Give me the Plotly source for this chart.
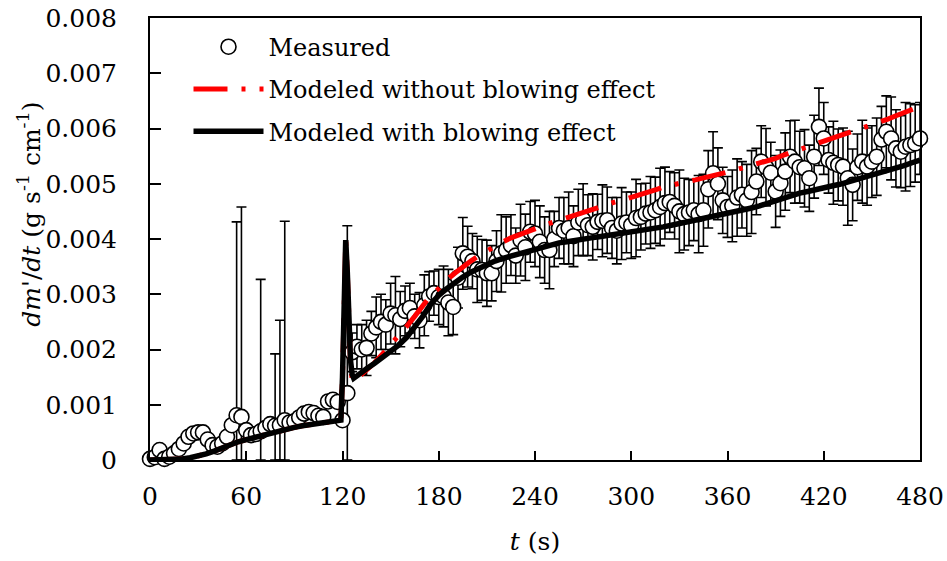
import numpy as np
import plotly.graph_objects as go

# ---------------- data (values in g s^-1 cm^-1 x 1e-3) ----------------
t_meas = list(range(0, 481, 3))
y_meas_k = [
    0.02, 0.05, 0.18, 0.02, 0.06, 0.12, 0.20, 0.30, 0.42, 0.48,   # 0-27
    0.50, 0.50, 0.37, 0.27, 0.24, 0.30, 0.42, 0.63, 0.81, 0.78,   # 30-57
    0.54, 0.45, 0.47, 0.52, 0.58, 0.65, 0.62, 0.63, 0.72, 0.68,   # 60-87
    0.70, 0.77, 0.84, 0.87, 0.85, 0.80, 0.78, 1.06, 1.09, 1.05,   # 90-117
    0.72, 1.21, 1.95, 2.05, 2.00, 2.03, 2.29, 2.40, 2.50, 2.45,   # 120-147
    2.65, 2.62, 2.55, 2.70, 2.75, 2.60, 2.53, 2.80, 2.96, 3.02,   # 150-177
    2.95, 2.96, 2.85, 2.77, 3.30, 3.74, 3.68, 3.60, 3.45, 3.44,   # 180-207
    3.38, 3.38, 3.60, 3.74, 3.80, 3.89, 3.70, 3.98, 3.85, 4.13,   # 210-237
    4.10, 3.95, 3.80, 3.80, 4.00, 4.20, 4.15, 4.20, 4.05, 4.30,   # 240-267
    4.35, 4.25, 4.22, 4.31, 4.33, 4.34, 4.20, 4.15, 4.28, 4.30,   # 270-297
    4.25, 4.38, 4.40, 4.46, 4.48, 4.52, 4.58, 4.65, 4.67, 4.60,   # 300-327
    4.50, 4.45, 4.48, 4.52, 4.45, 4.52, 4.90, 5.19, 5.00, 4.70,   # 330-357
    4.58, 4.60, 4.75, 4.80, 4.70, 4.85, 5.04, 5.40, 5.30, 5.20,   # 360-387
    4.86, 5.01, 5.22, 5.49, 5.40, 5.30, 5.28, 5.10, 5.49, 6.03,   # 390-417
    5.82, 5.43, 5.38, 5.34, 5.31, 5.10, 4.98, 5.30, 5.40, 5.31,   # 420-447
    5.40, 5.49, 5.80, 5.94, 5.82, 5.64, 5.58, 5.67, 5.70, 5.73,   # 450-477
    5.82,                                                          # 480
]
err_meas_k = [
    0.05, 0.05, 0.05, 0.05, 0.05, 0.05, 0.05, 0.05, 0.05, 0.05,
    0.05, 0.05, 0.05, 0.05, 0.05, 0.05, 0.05, 0.05, 3.50, 3.80,
    0.05, 0.05, 0.05, 2.75, 0.05, 0.05, 1.30, 1.90, 3.60, 0.05,
    0.05, 0.05, 0.05, 0.05, 0.05, 0.05, 0.05, 0.05, 0.05, 0.05,
    0.05, 3.03, 0.35, 0.40, 0.45, 0.50, 0.40, 0.55, 0.50, 0.45,
    0.55, 0.70, 0.50, 0.45, 0.45, 0.40, 0.50, 0.55, 0.45, 0.40,
    0.50, 0.55, 0.60, 0.50, 0.55, 0.65, 0.55, 0.50, 0.60, 0.55,
    0.60, 0.50, 0.55, 0.70, 0.60, 0.55, 0.50, 0.65, 0.60, 0.55,
    0.60, 0.65, 0.60, 0.70, 0.50, 0.55, 0.60, 0.65, 0.55, 0.60,
    0.65, 0.55, 0.60, 0.50, 0.65, 0.60, 0.55, 0.60, 0.65, 0.55,
    0.60, 0.70, 0.60, 0.55, 0.65, 0.60, 0.70, 0.65, 0.55, 0.60,
    0.75, 0.65, 0.60, 0.55, 0.70, 0.65, 0.70, 0.75, 0.65, 0.60,
    0.55, 0.65, 0.70, 0.60, 0.65, 0.75, 0.60, 0.65, 0.70, 0.55,
    0.65, 0.60, 0.70, 0.65, 0.75, 0.65, 0.70, 0.60, 0.75, 0.70,
    0.65, 0.60, 0.75, 0.65, 0.70, 0.85, 0.65, 0.60, 0.75, 0.70,
    0.65, 0.70, 0.60, 0.65, 0.75, 0.70, 0.65, 0.80, 0.75, 0.70,
    0.65,
]

t_model = [0, 5, 10, 15, 20, 25, 30, 35, 40, 45, 50, 55, 60, 65, 70, 75, 80, 85,
           90, 95, 100, 105, 110, 115, 119, 120, 121, 122, 123, 124, 125, 126,
           127, 128, 130, 135, 140, 145, 150, 155, 160, 165, 170, 175, 180, 185,
           190, 195, 200, 205, 210, 215, 220, 225, 230, 235, 240, 245, 250, 255,
           260, 265, 270, 275, 280, 285, 290, 295, 300, 305, 310, 315, 320, 325,
           330, 335, 340, 345, 350, 355, 360, 365, 370, 375, 380, 385, 390, 395,
           400, 405, 410, 415, 420, 425, 430, 435, 440, 445, 450, 455, 460, 465,
           470, 475, 480]
blow_k = [0.00, 0.00, 0.00, 0.01, 0.02, 0.04, 0.07, 0.11, 0.16, 0.22, 0.28, 0.33,
          0.37, 0.41, 0.45, 0.49, 0.53, 0.56, 0.59, 0.62, 0.64, 0.66, 0.68, 0.70,
          0.72, 1.50, 3.00, 3.98, 3.40, 2.40, 1.80, 1.55,
          1.48, 1.50, 1.55, 1.65, 1.75, 1.86, 1.96, 2.08, 2.22, 2.40, 2.60, 2.82,
          2.98, 3.10, 3.22, 3.31, 3.40, 3.47, 3.53, 3.60, 3.65, 3.69, 3.73, 3.78,
          3.83, 3.87, 3.90, 3.93, 3.95, 3.98, 4.00, 4.02, 4.04, 4.06, 4.08, 4.10,
          4.12, 4.14, 4.16, 4.19, 4.22, 4.25, 4.28, 4.31, 4.34, 4.37, 4.40, 4.42,
          4.45, 4.48, 4.52, 4.56, 4.60, 4.65, 4.70, 4.75, 4.79, 4.83, 4.86, 4.90,
          4.93, 4.96, 4.99, 5.03, 5.08, 5.12, 5.16, 5.20, 5.24, 5.28, 5.33, 5.38,
          5.43]
noblow_k = [0.00, 0.00, 0.00, 0.01, 0.02, 0.04, 0.07, 0.11, 0.16, 0.22, 0.28, 0.33,
            0.37, 0.41, 0.45, 0.49, 0.53, 0.56, 0.59, 0.62, 0.64, 0.66, 0.68, 0.70,
            0.72, 1.50, 3.00, 3.98, 3.40, 2.40, 1.75, 1.45,
            1.42, 1.45, 1.50, 1.62, 1.76, 1.92, 2.08, 2.25, 2.42, 2.60, 2.80, 2.98,
            3.10, 3.26, 3.38, 3.50, 3.60, 3.70, 3.79, 3.87, 3.95, 4.02, 4.08, 4.14,
            4.20, 4.24, 4.29, 4.34, 4.39, 4.44, 4.49, 4.54, 4.59, 4.63, 4.67, 4.71,
            4.75, 4.79, 4.84, 4.89, 4.94, 4.98, 5.01, 5.04, 5.07, 5.10, 5.13, 5.17,
            5.21, 5.25, 5.29, 5.33, 5.37, 5.41, 5.46, 5.52, 5.57, 5.62, 5.67, 5.72,
            5.77, 5.82, 5.86, 5.90, 5.96, 6.01, 6.07, 6.12, 6.17, 6.23, 6.29, 6.34,
            6.40]

x_ticks = [0, 60, 120, 180, 240, 300, 360, 420, 480]
y_ticks = [0, 0.001, 0.002, 0.003, 0.004, 0.005, 0.006, 0.007, 0.008]
y_tick_labels = ["0", "0.001", "0.002", "0.003", "0.004", "0.005", "0.006", "0.007", "0.008"]

# ---------------- build ----------------
y_meas = np.array(y_meas_k) * 1e-3
err_meas = np.array(err_meas_k) * 1e-3
err_minus = np.minimum(err_meas, y_meas)
blow = np.array(blow_k) * 1e-3
noblow = np.array(noblow_k) * 1e-3

FONT = "DejaVu Serif"

fig = go.Figure()
fig.add_trace(go.Scatter(
    x=t_meas, y=y_meas, mode="markers", name="Measured", legendgroup="a",
    marker=dict(symbol="circle", size=15, color="white",
                line=dict(color="black", width=1.6)),
    error_y=dict(type="data", array=err_meas, arrayminus=err_minus,
                 symmetric=False, color="black", thickness=1.6, width=5),
    cliponaxis=False,
))
fig.add_trace(go.Scatter(
    x=t_model, y=noblow, mode="lines", name="Modeled without blowing effect",
    legendgroup="b",
    line=dict(color="#ff0000", width=5, dash="34px,14px,4px,14px"),
))
fig.add_trace(go.Scatter(
    x=t_model, y=blow, mode="lines", name="Modeled with blowing effect",
    legendgroup="c",
    line=dict(color="black", width=5.5),
))

fig.update_layout(
    width=947, height=561,
    margin=dict(l=150, r=27, t=18, b=101, autoexpand=False),
    paper_bgcolor="white", plot_bgcolor="white",
    font=dict(family=FONT, size=24, color="black"),
    showlegend=True,
    legend=dict(x=0.05, y=0.985, xanchor="left", yanchor="top",
                bgcolor="rgba(0,0,0,0)", font=dict(family=FONT, size=24),
                itemwidth=70, tracegroupgap=8),
    annotations=[dict(
        text="<i>dm'</i>/<i>dt</i> (g s<sup>-1</sup> cm<sup>-1</sup>)",
        xref="paper", yref="paper", x=-0.156, y=0.557,
        xanchor="center", yanchor="middle", textangle=-90, showarrow=False,
        font=dict(family=FONT, size=25, color="black"),
    )],
)
fig.update_xaxes(
    range=[0, 480], tickvals=x_ticks, ticktext=[str(v) for v in x_ticks],
    ticks="inside", ticklen=9, tickwidth=2, tickcolor="black",
    showline=True, linecolor="black", linewidth=2, mirror=True,
    showgrid=False, zeroline=False, automargin=False,
    tickfont=dict(family=FONT, size=25), ticklabelstandoff=13,
    title=dict(text="<i>t</i> (s)", font=dict(family=FONT, size=25), standoff=22),
)
fig.update_yaxes(
    range=[0, 0.008], tickvals=y_ticks, ticktext=y_tick_labels,
    ticks="inside", ticklen=11, tickwidth=2, tickcolor="black",
    showline=True, linecolor="black", linewidth=2, mirror=True,
    showgrid=False, zeroline=False, automargin=False,
    tickfont=dict(family=FONT, size=25), ticklabelstandoff=26,
)

fig.write_html("out.html")
